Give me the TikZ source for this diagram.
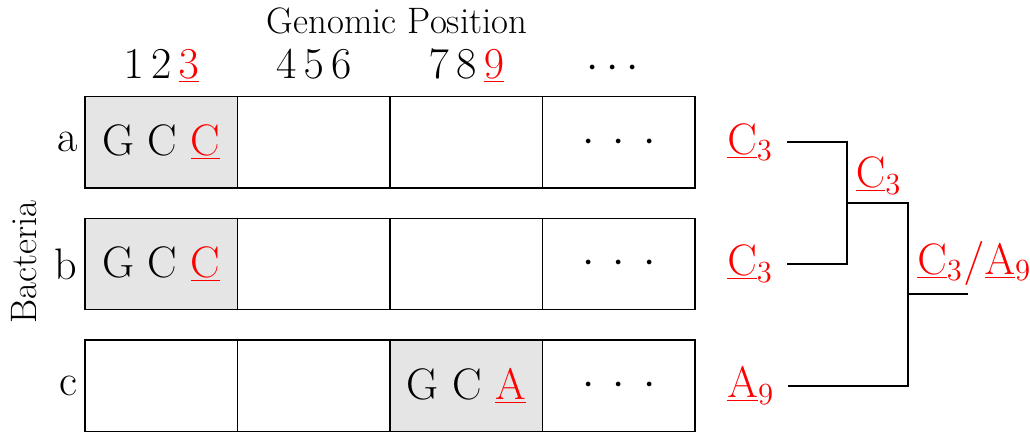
\documentclass[tikz,border=0pt]{standalone}
\usetikzlibrary{positioning}
\newcommand{\mut}[1]{{\color{red}\underline{#1}}}
\newcommand{\dotrow}{${\cdot}\mkern7.5mu{\cdot}\mkern7.5mu{\cdot}$}
\tikzset{
  cellbox/.style ={draw, line width=0.55pt, minimum width=2.518cm,
                   minimum height=1.511cm, inner sep=0pt, outer sep=0pt,
                   font=\huge},
  hitbox/.style  ={cellbox, fill=black!10},
  rowlab/.style  ={font=\huge, anchor=east, inner sep=3.3pt},
  poslab/.style  ={font=\huge},
  snp/.style     ={font=\huge, text=red},
  leaflab/.style ={snp, inner sep=6.45pt},
  innerlab/.style={snp, anchor=south west, inner sep=4.1pt},
  tree/.style    ={-, line width=0.95pt},
}

\begin{document}
\begin{tikzpicture}[x=1.651cm, y=1.651cm]
\useasboundingbox (0,0) rectangle (10.30,-4.32);

% sequence rows
\node[hitbox, anchor=north west] (a1) at (0.85,-0.965) {G C \mut{C}};
\node[cellbox, right=0pt of a1] (a2) {};
\node[cellbox, right=0pt of a2] (a3) {};
\node[cellbox, right=0pt of a3] (a4) {\dotrow};

\node[hitbox, anchor=north west] (b1) at (0.85,-2.183) {G C \mut{C}};
\node[cellbox, right=0pt of b1] (b2) {};
\node[cellbox, right=0pt of b2] (b3) {};
\node[cellbox, right=0pt of b3] (b4) {\dotrow};

\node[cellbox, anchor=north west] (c1) at (0.85,-3.40) {};
\node[cellbox, right=0pt of c1] (c2) {};
\node[hitbox, right=0pt of c2] (c3) {G C \mut{A}};
\node[cellbox, right=0pt of c3] (c4) {\dotrow};

\node[rowlab] (la) at (a1.west) {a};
\node[rowlab] (lb) at (b1.west) {b};
\node[rowlab] (lc) at (c1.west) {c};
\node[rotate=90, font=\LARGE] (bact) at (0.24,-2.62) {Bacteria};

% positions
\node[poslab, above=0.305cm of a1, anchor=base] (p1) {$1\,2\,\mut{3}$};
\node[poslab, above=0.305cm of a2, anchor=base] (p2) {$4\,5\,6$};
\node[poslab, above=0.305cm of a3, anchor=base] (p3) {$7\,8\,\mut{9}$};
\node[poslab, above=0.305cm of a4, anchor=base, xshift=-0.1cm] (p4) {$\cdots$};
\node[font=\LARGE, anchor=base] (gp) at (3.97,-0.333) {Genomic Position};

% tree
\node[leaflab, right=0.30cm of a4] (leafA) {$\underline{\mathrm{C}}_3$};
\node[leaflab, right=0.30cm of b4] (leafB) {$\underline{\mathrm{C}}_3$};
\node[leaflab, right=0.30cm of c4] (leafC) {$\underline{\mathrm{A}}_9$};
\coordinate (j1) at (8.467,-2.033);
\coordinate (j2) at (9.083,-2.943);
\coordinate (rt) at (9.683,-2.943);
\draw[tree] (leafA.east) -| (j1) |- (leafB.east);
\draw[tree] (j1) -| (j2) |- (leafC.east);
\draw[tree] (j2) -- (rt);
\node[innerlab] (n1) at (j1) {$\underline{\mathrm{C}}_3$};
\node[innerlab] (n2) at (j2) {$\underline{\mathrm{C}}_3/\underline{\mathrm{A}}_9$};

\end{tikzpicture}
\end{document}
